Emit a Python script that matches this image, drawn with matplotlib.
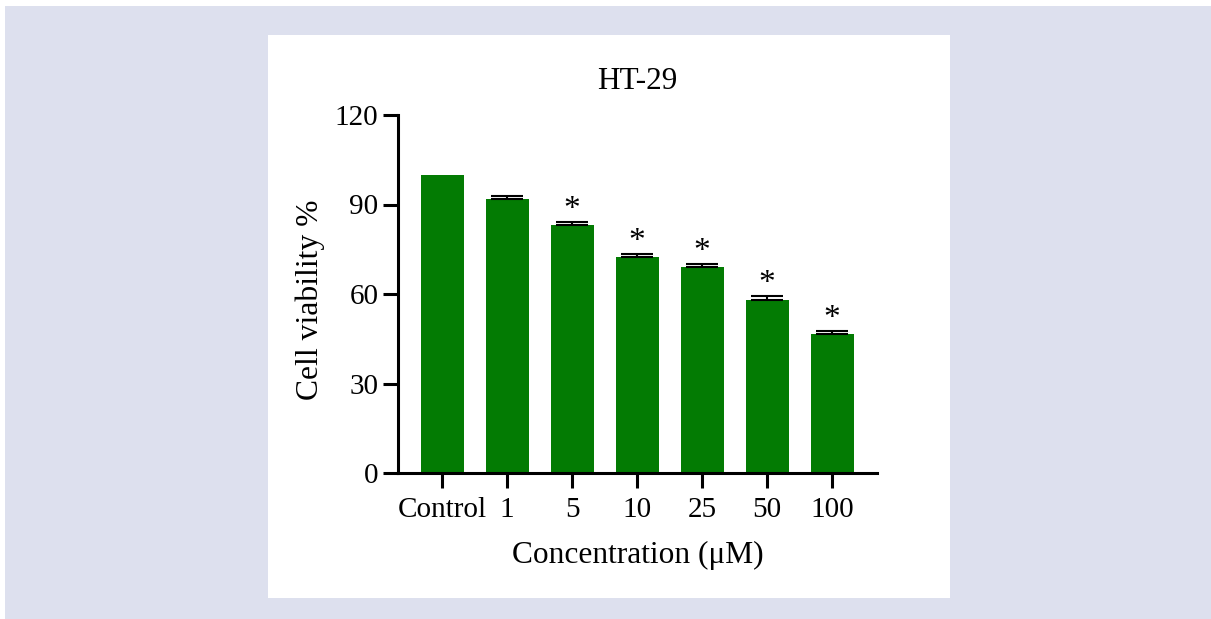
import matplotlib.pyplot as plt
from matplotlib.patches import Rectangle

plt.rcParams['font.family'] = ['Liberation Serif', 'DejaVu Serif']

categories = ['Control', '1', '5', '10', '25', '50', '100']
viability = [100, 92, 83, 72.3, 69, 58, 46.5]
errors = [0, 0.7, 1.2, 1.1, 1.1, 1.3, 1.1]
significant = [False, False, True, True, True, True, True]

bar_color = '#037b03'

fig = plt.figure(figsize=(12.11, 6.19), dpi=100)
fig.patch.set_facecolor('white')

W, H = 1211, 619
# lavender page background and white card
fig.patches.append(Rectangle((5 / W, 0), 1 - 5 / W, 1 - 6 / H, transform=fig.transFigure,
                             facecolor='#dde0ee', edgecolor='none', zorder=-2))
fig.patches.append(Rectangle((268 / W, 1 - 598 / H), (950 - 268) / W, (598 - 35) / H,
                             transform=fig.transFigure, facecolor='white',
                             edgecolor='none', zorder=-1))

ax = fig.add_axes([398 / W, 1 - 473 / H, (877 - 398) / W, (473 - 115) / H])
ax.patch.set_alpha(0)

x = list(range(len(categories)))
ax.bar(x, viability, width=0.66, color=bar_color, edgecolor='none', zorder=2)
ax.errorbar(x[1:], viability[1:], yerr=[[0] * 6, errors[1:]], fmt='none',
            ecolor='black', elinewidth=1.5, capsize=11.5, capthick=1.5, zorder=3)

for xi, v, e, s in zip(x, viability, errors, significant):
    if s:
        ax.text(xi, v + e + 4.0, '*', ha='center', va='center', fontsize=24)

ax.set_xlim(-0.68, 6.69)
ax.set_ylim(0, 120)
ax.set_yticks([0, 30, 60, 90, 120])
ax.set_xticks(x)
ax.set_xticklabels(categories)

for side in ['top', 'right']:
    ax.spines[side].set_visible(False)
for side in ['left', 'bottom']:
    ax.spines[side].set_linewidth(2.2)

ax.tick_params(axis='y', direction='out', length=11, width=2.2, labelsize=21, pad=3)
ax.tick_params(axis='x', direction='out', length=11, width=2.2, labelsize=21, pad=6)

ax.set_title('HT-29', fontsize=22.5, pad=19)
ax.set_xlabel('Concentration (\u03bcM)', fontsize=22.6, labelpad=13)
ax.set_ylabel('Cell viability %', fontsize=22.8)
ax.yaxis.set_label_coords((325 - 398) / (877 - 398), (473 - 300) / (473 - 115))

fig.savefig('out.png', dpi=100)
